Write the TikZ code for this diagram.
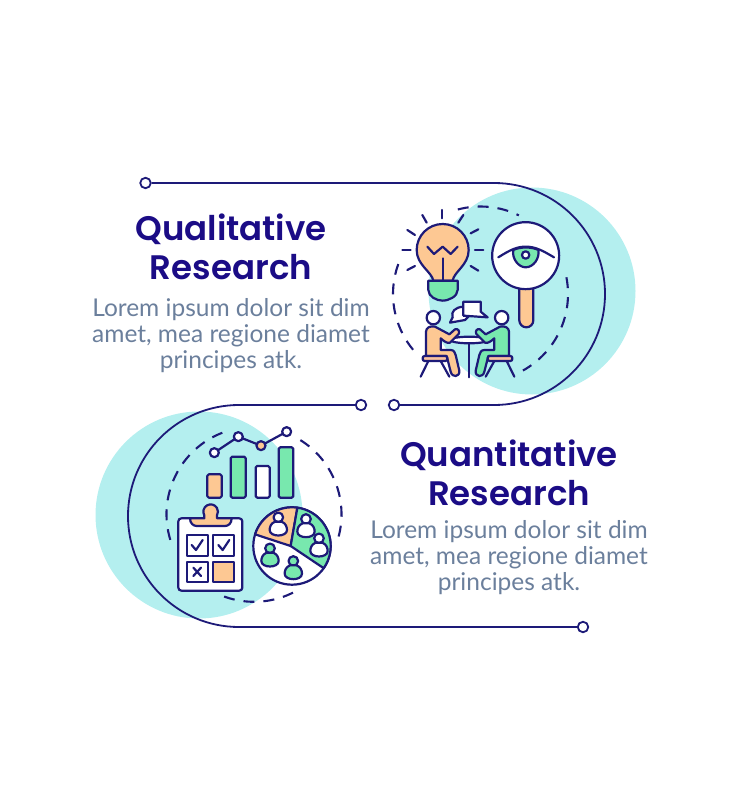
\documentclass[tikz,border=0pt]{standalone}
\usepackage{fontspec}
\setmainfont{Lato}
\newfontfamily\headfont{Poppins SemiBold}
\usetikzlibrary{positioning}
\definecolor{navy}{HTML}{1D1A78}
\definecolor{headblue}{HTML}{1B0C86}
\definecolor{bodygrey}{HTML}{6B7F9C}
\definecolor{teal}{HTML}{B4EFEF}
\definecolor{peach}{HTML}{FDC893}
\definecolor{mint}{HTML}{78E8AE}
\definecolor{seatpink}{HTML}{F8C2A0}
\tikzset{
  guide/.style={navy, line width=1.8pt},
  endmark/.style={circle, draw=navy, fill=white, line width=1.8pt, inner sep=0pt, minimum size=10.5pt},
  ring/.style={navy, line width=2.1pt, dash pattern=on 11pt off 9pt},
  icon/.style={draw=navy, line width=2.2pt, line join=round, line cap=round},
  heading/.style={headblue, align=center, font=\headfont\fontsize{34}{38.5}\selectfont},
  blurb/.style={bodygrey, align=center, font=\fontsize{24.5}{25.8}\selectfont},
}
% one seated person, drawn in crop pixels
\newcommand{\sitter}[1]{
  \draw [icon, fill=white] (70,53) circle [radius=6.7pt];
  \draw [icon, fill=#1] (48,168) -- (48,95) .. controls (48,84) and (60,76) .. (75,80)
    -- (118,103) -- (135,88) .. controls (145,84) and (150,95) .. (146,102)
    -- (120,128) .. controls (112,132) and (100,122) .. (92,115) -- (92,150) -- (122,150)
    .. controls (132,150) and (135,158) .. (137,165) -- (148,212)
    .. controls (150,232) and (126,234) .. (122,215) -- (110,168) -- cycle;
  \draw [icon] (55,183) -- (32,230);
  \draw [icon] (92,183) -- (118,230);
  \draw [icon, fill=seatpink, rounded corners=2pt] (38,168) rectangle (112,183);
}
% one small person on the pie
\newcommand{\pawn}[3]{
  \begin{scope}[shift={(#1,#2)}]
    \draw [icon, fill=#3] (0,0) circle [radius=4.8pt];
    \draw [icon, fill=#3] (-10,13) .. controls (-23,18) and (-26,30) .. (-26,38)
      .. controls (-26,60) and (26,60) .. (26,38) .. controls (26,30) and (23,18) .. (10,13) -- cycle;
  \end{scope}
}
\begin{document}
\begin{tikzpicture}[x=1pt,y=-1pt]
\useasboundingbox (0,0) rectangle (740,810);

% blobs
\fill [teal] (532,291) circle [radius=103.5pt];
\fill [teal] (199,515) circle [radius=103.5pt];

% guide lines
\node [endmark] (topstart) at (145.5,183) {};
\node [endmark] (topend) at (394,405) {};
\node [endmark] (lowstart) at (361,405) {};
\node [endmark] (lowend) at (583,627) {};
\draw [guide] (topstart) -- (494,183) arc [start angle=90, end angle=-90, radius=111pt] -- (topend);
\draw [guide] (lowstart) -- (239,405) arc [start angle=90, end angle=270, radius=111pt] -- (lowend);

% dashed rings
\draw [ring] ([shift={(105:87.5pt)}]480.5,294) arc [start angle=105, end angle=64, radius=87.5pt];
\draw [ring] ([shift={(160:87.5pt)}]480.5,294) arc [start angle=160, end angle=220, radius=87.5pt];
\draw [ring] ([shift={(11:87.5pt)}]480.5,294) arc [start angle=11, end angle=-61, radius=87.5pt];
\draw [ring] ([shift={(197:87.5pt)}]254,514.3) arc [start angle=197, end angle=111, radius=87.5pt];
\draw [ring] ([shift={(58:87.5pt)}]254,514.3) arc [start angle=58, end angle=-15, radius=87.5pt];
\draw [ring] ([shift={(250:87.5pt)}]254,514.3) arc [start angle=250, end angle=298, radius=87.5pt];

% texts
\node [heading] (qualhead) at (231,247) {Qualitative\\Research};
\node [blurb, below=12pt of qualhead] (qualtext) {Lorem ipsum dolor sit dim\\amet, mea regione diamet\\principes atk.};
\node [heading] (quanhead) at (509,473) {Quantitative\\Research};
\node [blurb, below=8pt of quanhead] (quantext) {Lorem ipsum dolor sit dim\\amet, mea regione diamet\\principes atk.};

% rays
\begin{scope}[shift={(380,170)},x=0.3333pt,y=-0.3333pt]
\foreach \a/\b/\c/\d in {187/120/187/145, 127/135/140/158, 82/180/105/195, 67/240/92/240, 82/300/105/288,
                         285/240/310/240, 272/190/295/178, 235/158/250/135, 272/288/295/302} {
    \draw [icon] (\a,\b) -- (\c,\d);
}
\end{scope}

% bulb and magnifier
\begin{scope}[shift={(410,215)},x=0.3333pt,y=-0.3333pt]
\draw [icon, fill=peach] (70,197) .. controls (65,170) and (20,150) .. (20,105)
    arc [start angle=180, end angle=0, radius=26pt]
    .. controls (176,150) and (132,170) .. (128,197) -- cycle;
\draw [icon] (52,95) -- (72,117) -- (98,95) -- (122,117) -- (143,95);
\draw [icon] (98,130) -- (98,197);
\draw [icon, fill=mint] (55,197) -- (143,197) -- (143,225) .. controls (143,245) and (115,257) .. (98,257)
    .. controls (80,257) and (55,245) .. (55,225) -- cycle;
\draw [icon, fill=peach] (328,222) -- (328,316) arc [start angle=180, end angle=360, radius=7pt] -- (370,222);
\draw [icon, fill=white] (347,122) circle [radius=33.5pt];
\draw [icon, fill=mint] (310,105) .. controls (330,95) and (365,95) .. (385,105)
    .. controls (390,130) and (370,157) .. (347,157) .. controls (325,157) and (305,130) .. (310,105) -- cycle;
\draw [icon] (265,127) .. controls (300,105) and (320,95) .. (347,95) .. controls (375,95) and (395,105) .. (432,127);
\draw [icon, fill=white] (347,120) circle [radius=3.7pt];
\end{scope}

% meeting
\begin{scope}[shift={(410,300)},x=0.3333pt,y=-0.3333pt]
\draw [icon, fill=white] (160,20) .. controls (135,22) and (122,35) .. (128,52) -- (120,68) -- (165,60) -- (178,47) -- cycle;
\draw [icon, fill=white] (160,5) -- (212,5) -- (212,35) -- (233,52) -- (160,47) -- cycle;
\draw [icon] (178,130) -- (178,232);
\draw [icon, fill=white] (178,120) ellipse [x radius=19pt, y radius=3.3pt];
\sitter{peach}
\end{scope}
\begin{scope}[shift={(525,300)},x=-0.3333pt,y=-0.3333pt]
\sitter{mint}
\end{scope}

% chart
\begin{scope}[shift={(90,395)},x=0.3333pt,y=-0.3333pt]
\draw [icon, fill=peach, rounded corners=1.5pt] (352,238) rectangle (395,308);
\draw [icon, fill=mint, rounded corners=1.5pt] (422,185) rectangle (467,308);
\draw [icon, fill=white, rounded corners=1.5pt] (497,213) rectangle (539,308);
\draw [icon, fill=mint, rounded corners=1.5pt] (566,157) rectangle (610,308);
\draw [icon] (373,173) -- (445,125) -- (513,152) -- (590,110);
\draw [icon, fill=white] (373,173) circle [radius=4.5pt];
\draw [icon, fill=white] (445,125) circle [radius=4.5pt];
\draw [icon, fill=peach] (513,152) circle [radius=4.5pt];
\draw [icon, fill=white] (590,110) circle [radius=4.5pt];
\end{scope}

% clipboard and pie
\begin{scope}[shift={(170,500)},x=0.3333pt,y=-0.3333pt]
\draw [icon, fill=white, rounded corners=3pt] (25,55) rectangle (217,272);
\draw [icon, fill=peach] (60,55) -- (103,55) -- (103,46) arc [start angle=210, end angle=-30, radius=7.3pt]
    -- (141,55) -- (185,55) .. controls (185,70) and (175,78) .. (165,78) -- (80,78)
    .. controls (70,78) and (60,70) .. (60,55) -- cycle;
\draw [icon, fill=white] (50,105) rectangle (113,167);
\draw [icon, fill=white] (130,105) rectangle (193,167);
\draw [icon, fill=white] (50,185) rectangle (113,247);
\draw [icon, fill=peach] (130,185) rectangle (193,247);
\draw [icon] (65,135) -- (78,150) -- (98,120);
\draw [icon] (145,135) -- (158,150) -- (178,120);
\draw [icon] (70,203) -- (93,228);
\draw [icon] (93,203) -- (70,228);

\draw [icon, fill=white] (366,138) circle [radius=38.7pt];
\draw [icon, fill=peach] (362,138) -- ([shift={(162.5:38.7pt)}]366,138) arc [start angle=162.5, end angle=82, radius=38.7pt] -- cycle;
\draw [icon, fill=mint] (362,138) -- ([shift={(82:38.7pt)}]366,138) arc [start angle=82, end angle=-35, radius=38.7pt] -- cycle;
\foreach \a/\b/\c in {325/52/white, 408/57/white, 447/115/white, 300/145/mint, 370/183/mint} {
    \pawn{\a}{\b}{\c}
}
\end{scope}
\end{tikzpicture}
\end{document}
